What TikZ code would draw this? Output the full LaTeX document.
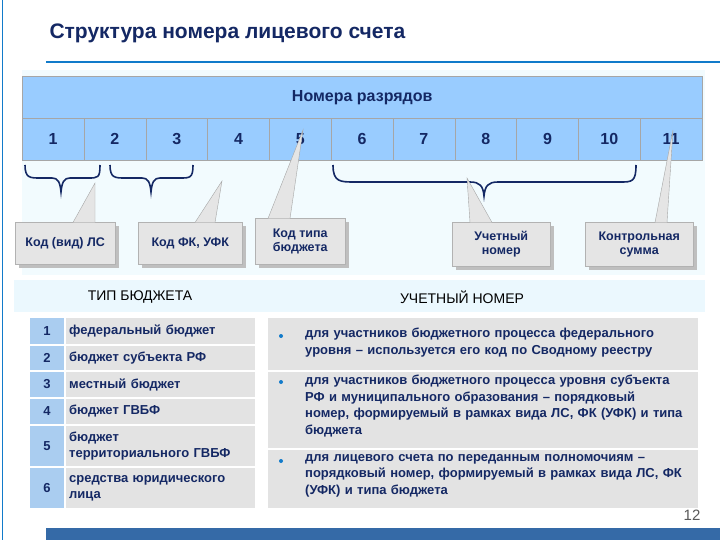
\documentclass[tikz,border=0pt]{standalone}
\usepackage{fontspec}
\setmainfont{Liberation Sans}
\definecolor{cellblue}{RGB}{153,204,255}
\definecolor{navy}{RGB}{20,40,100}
\definecolor{numblue}{RGB}{170,205,240}
\begin{document}
\begin{tikzpicture}[x=1pt,y=-1pt,
 cellbox/.style={draw=gray!70,fill=cellblue,minimum height=42pt,inner sep=0pt,font=\fontsize{16}{16}\selectfont\bfseries,text=navy},
 call/.style={draw=gray!60,fill=gray!20,inner sep=2pt,align=center,font=\fontsize{12.5}{14}\selectfont\bfseries,text=navy},
 brc/.style={draw=navy,line width=1.6pt},
 ptr/.style={draw=gray!70,fill=gray!20},
 numc/.style={inner sep=0pt,minimum width=34pt,font=\fontsize{13}{14}\selectfont\bfseries,text=navy},
 txtc/.style={inner sep=3pt,text width=185pt,align=left,font=\fontsize{13}{16}\selectfont\bfseries,text=navy},
 rtxt/.style={text width=390pt,align=left,inner sep=0pt,font=\fontsize{13}{16.5}\selectfont\bfseries,text=navy},
 bul/.style={circle,fill=cyan!60!blue,inner sep=0pt,minimum size=4pt}]
\useasboundingbox (0,0) rectangle (720,540);
\fill[white] (0,0) rectangle (720,540);
\draw[cyan!60!blue,line width=1pt] (2,0) -- (2,540);
\node[anchor=west,font=\fontsize{21}{21}\selectfont\bfseries,text=navy] (title) at (46,33) {Структура номера лицевого счета};
\draw[cyan!60!blue,line width=1.5pt] (46,62) -- (720,62);
\fill[cyan!50!blue!80!black] (46,528) rectangle (720,540);
\fill[cyan!5] (22,70) rectangle (705,275);
\node[cellbox,minimum width=680pt,minimum height=42pt,anchor=north west] (hdr) at (22,76) {Номера разрядов};
\foreach \i in {1,...,11}{
 \node[cellbox,minimum width=61.8pt,anchor=north west] (c\i) at ({22+61.8*(\i-1)},118) {\i};
}
\draw[brc] (25,165) .. controls (25,178) and (30,178) .. (40,178) -- (52,178) .. controls (58,178) and (60,182) .. (61,192) .. controls (62,182) and (64,178) .. (70,178) -- (88,178) .. controls (98,178) and (100,178) .. (100,165);
\draw[brc] (110,165) .. controls (110,178) and (115,178) .. (125,178) -- (142,178) .. controls (148,178) and (150,182) .. (151,192) .. controls (152,182) and (154,178) .. (160,178) -- (180,178) .. controls (190,178) and (193,178) .. (193,165);
\draw[brc] (333,165) .. controls (333,182) and (340,182) .. (355,182) -- (470,182) .. controls (480,182) and (483,186) .. (484,196) .. controls (485,186) and (488,182) .. (498,182) -- (620,182) .. controls (632,182) and (636,182) .. (636,165);
\node[call,anchor=north west,minimum width=100pt,minimum height=42pt,fill=gray!50,draw=none] at (19,226) {};
\node[call,anchor=north west,minimum width=100pt,minimum height=42pt] (k1) at (15,222) {Код (вид) ЛС};
\node[call,anchor=north west,minimum width=104pt,minimum height=42pt,fill=gray!50,draw=none] at (142,226) {};
\node[call,anchor=north west,minimum width=104pt,minimum height=42pt] (k2) at (138,222) {Код ФК, УФК};
\node[call,anchor=north west,minimum width=90pt,minimum height=46pt,fill=gray!50,draw=none] at (259,222) {};
\node[call,anchor=north west,minimum width=90pt,minimum height=46pt] (k3) at (255,218) {Код типа\\бюджета};
\node[call,anchor=north west,minimum width=98pt,minimum height=44pt,fill=gray!50,draw=none] at (456,226) {};
\node[call,anchor=north west,minimum width=98pt,minimum height=44pt] (k4) at (452,222) {Учетный\\номер};
\node[call,anchor=north west,minimum width=108pt,minimum height=44pt,fill=gray!50,draw=none] at (589,226) {};
\node[call,anchor=north west,minimum width=108pt,minimum height=44pt] (k5) at (585,222) {Контрольная\\сумма};
\coordinate (p1) at (95,183); \coordinate (p2) at (222,181);
\coordinate (p3) at (303,130); \coordinate (p4) at (467,178); \coordinate (p5) at (673,130);
\draw[ptr] (73,222.5) -- (p1) -- (95,222.5);
\draw[ptr] (195,222.5) -- (p2) -- (215,222.5);
\draw[ptr] (268,218.5) -- (p3) -- (290,218.5);
\draw[ptr] (470,222.5) -- (p4) -- (492,222.5);
\draw[ptr] (655,222.5) -- (p5) -- (667,222.5);
\fill[cyan!8] (14,280) rectangle (705,312);
\node[font=\fontsize{14}{14}\selectfont,text=black] (h1) at (140,297) {ТИП БЮДЖЕТА};
\node[font=\fontsize{14}{14}\selectfont,text=black] (h2) at (462,297) {УЧЕТНЫЙ НОМЕР};
\foreach \n/\a/\b/\t in {1/318/344/{федеральный бюджет},2/346/370/{бюджет субъекта РФ},3/372/397/{местный бюджет},4/399/424/{бюджет ГВБФ},5/426/466/{бюджет\\территориального ГВБФ},6/468/508/{средства юридического\\лица}}{
 \fill[numblue] (30,\a) rectangle (64,\b);
 \fill[gray!22] (66,\a) rectangle (255,\b);
 \node[numc] (n\n) at (47,{(\a+\b)/2}) {\n};
 \node[txtc,anchor=west] (t\n) at (66,{(\a+\b)/2}) {\t};
}
\fill[gray!22] (268,318) rectangle (698,370);
\fill[gray!22] (268,372) rectangle (698,448);
\fill[gray!22] (268,450) rectangle (698,508);
\node[bul] (b1) at (281,336) {}; \node[bul] (b2) at (281,382) {}; \node[bul] (b3) at (281,461) {};
\node[rtxt,anchor=north west] (r1) at (305,328) {для участников бюджетного процесса федерального уровня – используется его код по Сводному реестру};
\node[rtxt,anchor=north west] (r2) at (305,375) {для участников бюджетного процесса уровня субъекта РФ и муниципального образования – порядковый номер, формируемый в рамках вида ЛС, ФК (УФК) и типа бюджета};
\node[rtxt,anchor=north west] (r3) at (305,454) {для лицевого счета по переданным полномочиям – порядковый номер, формируемый в рамках вида ЛС, ФК (УФК) и типа бюджета};
\node[font=\fontsize{15}{15}\selectfont,text=gray!70!black] (pg) at (692,515) {12};
\end{tikzpicture}
\end{document}
